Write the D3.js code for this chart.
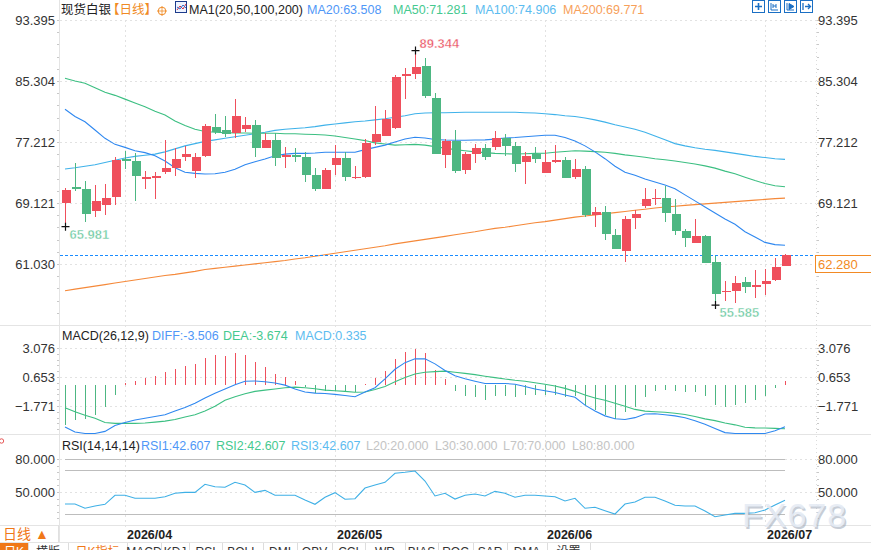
<!DOCTYPE html>
<html>
<head>
<meta charset="utf-8">
<script src="https://cdn.jsdelivr.net/npm/d3@7"></script>
<style>
  body { margin: 0; background: #fff; overflow: hidden; }
  svg { display: block; font-family: "Liberation Sans", Arial, "Noto Sans CJK SC", sans-serif; }
</style>
</head>
<body>
<div id="chart"></div>
<script>
// daily candles, spot silver
const open  = [69.16,71.20,70.98,68.10,68.85,69.96,74.95,74.69,72.34,72.57,73.27,73.80,75.26,73.41,75.40,79.20,78.80,78.37,78.97,79.47,
               76.46,77.48,75.26,75.44,75.22,72.83,71.02,74.20,75.09,72.48,72.61,77.21,78.00,79.03,86.00,86.27,87.33,83.09,75.53,77.34,
               73.54,75.66,76.37,76.59,77.70,76.68,74.60,75.58,73.14,74.69,74.82,72.61,73.63,67.53,67.97,64.87,62.79,67.17,68.72,69.65,
               69.78,67.66,65.41,63.77,64.74,61.25,57.32,57.49,58.68,58.03,58.37,58.90,60.80];
const high  = [71.15,74.38,72.04,71.51,71.64,75.18,76.02,75.71,73.36,73.23,77.48,76.37,76.68,75.75,79.60,80.93,80.66,82.92,80.57,80.13,
               78.37,78.37,76.50,76.37,75.93,73.72,73.72,76.81,75.85,74.03,77.65,81.99,81.46,86.10,87.07,89.344,88.40,83.75,77.56,78.80,
               75.93,76.95,76.95,78.67,78.27,77.25,75.85,76.50,76.15,76.81,75.26,74.95,74.03,68.55,68.72,65.63,67.40,68.19,71.07,70.93,
               71.37,69.65,65.71,67.00,64.87,62.13,58.77,59.48,59.34,60.23,60.32,61.86,62.35];
const low   = [65.981,70.75,66.64,67.30,67.53,68.85,73.63,69.42,71.02,69.69,73.00,72.74,74.73,72.47,75.22,78.23,77.92,77.70,78.58,75.26,
               76.46,74.07,73.80,74.60,71.95,70.75,71.02,72.83,72.08,72.26,72.44,76.81,78.00,78.93,82.92,85.57,83.09,75.66,73.80,73.06,
               72.97,74.38,74.82,76.15,75.35,73.27,71.64,74.46,73.14,74.38,72.48,72.30,67.22,65.98,64.21,63.02,61.34,65.67,68.50,68.81,
               66.64,64.87,63.24,63.77,61.21,55.585,56.16,55.80,57.22,56.47,56.92,58.81,60.80];
const close = [70.84,71.00,67.70,69.38,69.82,74.82,74.75,72.74,72.61,72.70,73.80,74.95,75.62,75.22,79.33,78.58,78.23,80.66,79.47,76.46,
               77.48,75.13,75.49,75.26,72.87,71.02,73.50,75.09,72.52,72.61,77.12,78.27,80.22,85.87,86.23,87.20,83.35,75.66,77.34,73.41,
               75.62,76.42,75.26,77.70,76.72,74.33,75.35,74.99,74.56,74.82,72.48,73.59,67.53,67.97,65.01,63.02,67.04,67.66,69.65,69.82,
               67.75,65.45,64.52,64.74,61.21,57.09,57.49,58.47,58.03,58.24,58.77,60.67,62.28];

const ma20  = [81.55,80.60,79.90,78.80,77.70,76.90,76.50,76.05,75.80,75.40,74.70,73.80,73.20,73.05,72.97,73.00,73.20,73.60,74.20,74.60,
               74.95,75.40,75.60,75.70,75.70,75.75,75.85,75.85,75.85,75.85,76.20,76.50,76.80,77.20,77.60,77.85,77.75,77.55,77.48,77.45,
               77.45,77.48,77.50,77.60,77.75,77.80,77.90,78.00,78.10,78.10,77.80,77.35,76.70,75.90,75.00,74.00,73.20,72.80,72.30,71.90,
               71.50,71.00,70.20,69.40,68.60,67.80,67.00,66.30,65.30,64.60,63.90,63.60,63.508];
const ma50  = [85.66,85.30,85.00,84.40,83.80,83.40,82.90,82.40,81.90,81.30,80.80,80.00,79.40,78.90,78.60,78.50,78.45,78.40,78.40,78.38,
               78.37,78.37,78.30,78.30,78.25,78.20,78.15,78.00,77.80,77.60,77.40,77.10,76.95,76.80,76.85,76.90,76.80,76.60,76.40,76.20,
               76.05,75.90,75.80,75.70,75.65,75.62,75.65,75.70,75.72,75.85,75.95,76.05,76.00,75.93,75.85,75.70,75.50,75.35,75.20,75.00,
               74.85,74.70,74.50,74.30,74.05,73.75,73.35,73.00,72.55,72.10,71.70,71.40,71.281];
const ma100 = [73.63,73.80,74.00,74.20,74.50,74.80,75.10,75.30,75.45,75.60,75.90,76.30,76.70,77.00,77.30,77.50,77.70,77.90,78.10,78.30,
               78.50,78.75,78.90,79.00,79.10,79.25,79.45,79.60,79.75,79.90,80.00,80.15,80.30,80.50,80.70,80.95,81.05,81.10,81.10,81.12,
               81.15,81.15,81.15,81.15,81.15,81.15,81.10,81.05,80.95,80.85,80.70,80.60,80.40,80.15,79.85,79.50,79.20,78.90,78.50,78.00,
               77.50,77.00,76.70,76.45,76.25,76.10,75.90,75.70,75.50,75.30,75.15,75.00,74.906];
const ma200 = [57.49,57.70,57.90,58.10,58.30,58.50,58.70,58.90,59.10,59.30,59.50,59.65,59.85,60.05,60.30,60.45,60.60,60.75,60.90,61.05,
               61.20,61.35,61.50,61.70,61.85,62.05,62.25,62.45,62.65,62.85,63.05,63.25,63.45,63.70,63.90,64.10,64.30,64.50,64.70,64.90,
               65.10,65.30,65.55,65.75,65.90,66.10,66.30,66.50,66.65,66.85,67.05,67.25,67.40,67.55,67.70,67.85,68.00,68.15,68.30,68.45,
               68.60,68.70,68.80,68.90,69.00,69.10,69.20,69.30,69.40,69.50,69.60,69.70,69.771];

const diff  = [-3.54,-3.95,-4.07,-4.07,-3.90,-3.40,-3.15,-2.95,-2.80,-2.65,-2.50,-2.20,-1.90,-1.55,-1.10,-0.70,-0.35,0.00,0.30,0.32,
               0.25,0.15,-0.03,-0.35,-0.60,-0.70,-0.73,-0.80,-0.90,-1.00,-0.60,-0.25,0.50,1.30,1.85,2.17,2.17,1.75,1.20,0.75,
               0.50,0.30,0.11,0.11,0.11,0.05,-0.15,-0.35,-0.50,-0.65,-0.85,-1.05,-1.70,-2.20,-2.60,-2.84,-2.90,-2.75,-2.45,-2.42,
               -2.50,-2.60,-2.75,-3.00,-3.30,-3.65,-4.00,-4.07,-4.07,-4.07,-4.07,-3.85,-3.506];
const dea   = [-1.92,-2.25,-2.55,-2.80,-3.15,-3.23,-3.23,-3.23,-3.20,-3.12,-3.04,-2.90,-2.70,-2.50,-2.20,-1.80,-1.30,-1.00,-0.75,-0.55,
               -0.45,-0.35,-0.25,-0.20,-0.25,-0.33,-0.45,-0.50,-0.55,-0.62,-0.60,-0.40,-0.15,0.25,0.60,0.90,1.05,1.10,1.14,1.05,
               0.95,0.85,0.72,0.60,0.48,0.38,0.30,0.17,0.05,-0.10,-0.30,-0.55,-0.85,-1.10,-1.30,-1.55,-1.80,-2.06,-2.20,-2.25,
               -2.30,-2.38,-2.48,-2.65,-2.85,-3.00,-3.20,-3.35,-3.55,-3.60,-3.62,-3.65,-3.674];
const macdHist = [-3.40,-2.98,-2.87,-2.50,-1.90,-0.84,0.14,0.33,0.58,0.75,1.06,1.34,1.59,1.70,2.28,2.45,2.37,2.62,2.45,1.90,
               1.50,0.94,0.61,0.33,-0.22,-0.70,-0.56,-0.50,-0.56,-0.64,0.05,0.56,1.17,2.17,2.76,3.00,2.67,1.25,0.50,-0.56,
               -0.98,-1.03,-1.25,-0.92,-0.92,-1.03,-0.84,-0.84,-0.84,-0.84,-1.03,-0.92,-1.67,-2.15,-2.50,-2.84,-2.31,-1.86,-1.03,-0.56,
               -0.42,-0.56,-0.64,-0.64,-0.92,-1.67,-1.90,-1.67,-1.53,-1.31,-0.92,-0.28,0.335];

const rsi   = [39.1,39.1,35.2,37.3,38.8,47.0,47.0,44.3,44.3,44.3,45.7,48.8,49.7,49.7,57.0,54.8,54.3,58.8,56.4,49.7,
               51.5,47.0,47.0,47.0,42.7,38.8,45.2,49.4,43.4,43.9,53.6,56.4,58.8,67.0,67.9,69.1,60.0,46.4,48.8,43.6,
               47.0,48.2,46.4,50.6,48.8,45.2,47.0,47.0,46.4,45.7,41.8,44.3,35.2,36.1,33.0,30.0,39.1,40.9,45.2,45.2,
               41.8,37.9,37.3,37.3,32.7,27.5,29.1,30.6,30.6,31.2,33.6,38.2,42.607];

const priceTicks = [93.395, 85.304, 77.212, 69.121, 61.030];
const macdTicks  = [3.076, 0.653, -1.771];
const rsiTicks   = [80, 50];
const rsiLevels  = [80, 70, 30];
const monthIdx    = [6, 27, 48, 70];
const monthLabels = ["2026/04", "2026/05", "2026/06", "2026/07"];
const tabLabels  = ["日K", "横版", "日K指标", "MACD", "KDJ", "RSI", "BOLL", "DMI", "OBV", "CCI", "WR", "BIAS", "ROC", "SAR", "DMA", "设置"];

const W = 871, H = 550;
const RED = "#ef4f5c", GREEN = "#4db782";
const C20 = "#2f88f0", C50 = "#3cbf82", C100 = "#3fb2ea", C200 = "#f5893a";
const n = close.length;

const svg = d3.select("#chart").append("svg")
    .attr("width", W)
    .attr("height", H);

const x = d3.scaleBand().domain(d3.range(n)).range([60, 60 + n * 10]);
const xc = i => x(i) + x.bandwidth() / 2;

const yMain = d3.scaleLinear().domain([52.939, 93.395]).range([325, 20]);
const yMacd = d3.scaleLinear().domain([-4.2, 3.076]).range([435, 348]);
const yRsi  = d3.scaleLinear().domain([20, 98]).range([525, 439.2]);

// frame lines
const frame = svg.append("g").attr("stroke", "#e4e4e4").attr("shape-rendering", "crispEdges");
[325.5, 434.5, 525.5, 542.5].forEach(y => frame.append("line").attr("x1", 0).attr("x2", W).attr("y1", y).attr("y2", y));
frame.append("line").attr("x1", 59.5).attr("x2", 59.5).attr("y1", 0).attr("y2", 542);
frame.append("line").attr("x1", 816.5).attr("x2", 816.5).attr("y1", 20).attr("y2", 525)
    .attr("stroke", "#dcdcdc").attr("stroke-dasharray", "1,3");

// grid
const grid = svg.append("g").attr("stroke", "#e2e2e2").attr("stroke-dasharray", "2,3").attr("shape-rendering", "crispEdges");
priceTicks.forEach(v => grid.append("line").attr("x1", 60).attr("x2", 816).attr("y1", Math.round(yMain(v)) + 0.5).attr("y2", Math.round(yMain(v)) + 0.5));
macdTicks.forEach(v => grid.append("line").attr("x1", 60).attr("x2", 816).attr("y1", Math.round(yMacd(v)) + 0.5).attr("y2", Math.round(yMacd(v)) + 0.5));
rsiTicks.forEach(v => grid.append("line").attr("x1", 60).attr("x2", 816).attr("y1", Math.round(yRsi(v)) + 0.5).attr("y2", Math.round(yRsi(v)) + 0.5));
monthIdx.forEach(i => grid.append("line").attr("x1", xc(i) + 0.5).attr("x2", xc(i) + 0.5).attr("y1", 20).attr("y2", 530));

// minor ticks on both axes
function minorTicks(scale, ticks, lo, hi) {
    const step = (ticks[0] - ticks[1]) / 5;
    const g = svg.append("g").attr("stroke", "#c8c8c8").attr("shape-rendering", "crispEdges");
    for (let v = ticks[0]; v > lo; v -= step) {
        const y = Math.round(scale(v)) + 0.5;
        if (y > hi) break;
        g.append("line").attr("x1", 57).attr("x2", 59).attr("y1", y).attr("y2", y);
        g.append("line").attr("x1", 817).attr("x2", 819).attr("y1", y).attr("y2", y);
    }
}
minorTicks(yMain, priceTicks, 52.939, 324);
minorTicks(yMacd, macdTicks, -4.2, 433);
minorTicks(yRsi, [80, 50], 20, 524);

// axes labels
function axisPair(scale, ticks, fmt) {
    svg.append("g").attr("transform", "translate(57,0)")
        .call(d3.axisLeft(scale).tickValues(ticks).tickSize(0).tickPadding(2).tickFormat(fmt))
        .attr("font-family", null).attr("font-size", 13)
        .call(g => g.select(".domain").remove())
        .selectAll("text").attr("fill", "#333");
    svg.append("g").attr("transform", "translate(816,0)")
        .call(d3.axisRight(scale).tickValues(ticks).tickSize(0).tickPadding(2).tickFormat(fmt))
        .attr("font-family", null).attr("font-size", 13)
        .call(g => g.select(".domain").remove())
        .selectAll("text").attr("fill", "#333");
}
axisPair(yMain, priceTicks, d3.format(".3f"));
axisPair(yMacd, macdTicks, d3.format(".3f"));
axisPair(yRsi, rsiTicks, d3.format(".3f"));

// moving averages
const line = scale => d3.line().x((d, i) => xc(i)).y(d => scale(d));
[[ma200, C200], [ma100, C100], [ma50, C50], [ma20, C20]].forEach(([arr, col]) => {
    svg.append("path").datum(arr)
        .attr("d", line(yMain))
        .attr("fill", "none")
        .attr("stroke", col)
        .attr("stroke-width", 1.1);
});

// last price line (under the candles)
const last = close[n - 1], ly = Math.round(yMain(last)) + 0.5;
svg.append("line").attr("x1", 60).attr("x2", 816).attr("y1", ly).attr("y2", ly)
    .attr("stroke", "#1a8cff").attr("stroke-width", 1.2).attr("stroke-dasharray", "3,2");

// candles
const cg = svg.append("g").attr("shape-rendering", "crispEdges");
cg.selectAll("line.wick")
    .data(d3.range(n))
    .enter()
    .append("line")
    .attr("class", "wick")
    .attr("x1", i => xc(i) + 0.5)
    .attr("x2", i => xc(i) + 0.5)
    .attr("y1", i => yMain(high[i]))
    .attr("y2", i => yMain(low[i]))
    .attr("stroke", i => close[i] >= open[i] ? RED : GREEN);
cg.selectAll("rect.body")
    .data(d3.range(n))
    .enter()
    .append("rect")
    .attr("class", "body")
    .attr("x", i => xc(i) - 3.5)
    .attr("width", 9)
    .attr("y", i => yMain(Math.max(open[i], close[i])))
    .attr("height", i => Math.max(1.5, Math.abs(yMain(open[i]) - yMain(close[i]))))
    .attr("fill", i => close[i] >= open[i] ? RED : GREEN);

// extreme markers
function extreme(i, v, isHigh) {
    const px = xc(i) + 0.5, py = yMain(v);
    const g = svg.append("g");
    g.append("path").attr("d", `M${px - 4},${py}H${px + 4}M${px},${py - 4}V${py + 4}`)
        .attr("stroke", "#111").attr("stroke-width", 1.2);
    g.append("text")
        .attr("x", px + 4)
        .attr("y", isHigh ? py - 3 : py + 12)
        .attr("font-size", 13)
        .attr("font-weight", "bold")
        .attr("fill", isHigh ? "#ea5565" : "#6cc9a0")
        .attr("stroke", "#fff").attr("stroke-width", 0.4)
        .text(v.toFixed(3));
}
const hiIdx = d3.maxIndex(high), loIdx = d3.minIndex(low);
extreme(hiIdx, high[hiIdx], true);
extreme(0, low[0], false);
extreme(loIdx, low[loIdx], false);

// last price tag
svg.append("rect").attr("x", 815.5).attr("y", ly).attr("width", 56).attr("height", 17)
    .attr("fill", "#fff").attr("stroke", "#f28a24");
svg.append("text").attr("x", 818).attr("y", ly + 13.5).attr("font-size", 13).attr("fill", "#f28a24").text(last.toFixed(3));

// MACD
const mg = svg.append("g").attr("shape-rendering", "crispEdges");
mg.selectAll("line")
    .data(d3.range(n))
    .enter()
    .append("line")
    .attr("x1", i => xc(i) + 0.5)
    .attr("x2", i => xc(i) + 0.5)
    .attr("y1", yMacd(0))
    .attr("y2", i => yMacd(macdHist[i]))
    .attr("stroke", i => macdHist[i] >= 0 ? RED : GREEN);
svg.append("path").datum(dea).attr("d", line(yMacd)).attr("fill", "none").attr("stroke", C50).attr("stroke-width", 1.1);
svg.append("path").datum(diff).attr("d", line(yMacd)).attr("fill", "none").attr("stroke", C20).attr("stroke-width", 1.1);

// RSI
const rg = svg.append("g").attr("stroke", "#bdbdbd").attr("shape-rendering", "crispEdges");
rsiLevels.forEach(v => rg.append("line").attr("x1", xc(0)).attr("x2", xc(n - 1)).attr("y1", Math.round(yRsi(v)) + 0.5).attr("y2", Math.round(yRsi(v)) + 0.5));
svg.append("path").datum(rsi).attr("d", line(yRsi)).attr("fill", "none").attr("stroke", "#3fb0e6").attr("stroke-width", 1.1);

// legends
function legend(y, items) {
    const g = svg.append("g").attr("font-size", 12.5);
    items.forEach(([tx, tt, col]) => g.append("text").attr("x", tx).attr("y", y).attr("fill", col).text(tt));
}
legend(13.5, [
    [61, "现货白银", "#222"], [107, "【日线】", "#f08a24"], [189, "MA1(20,50,100,200)", "#222"],
    [307, "MA20:" + ma20[n - 1].toFixed(3), "#4f97f7"], [393, "MA50:" + ma50[n - 1].toFixed(3), "#45c98f"],
    [475, "MA100:" + ma100[n - 1].toFixed(3), "#5cbcf0"], [563, "MA200:" + ma200[n - 1].toFixed(3), "#f7a05a"]
]);
legend(339.5, [
    [62, "MACD(26,12,9)", "#222"], [152, "DIFF:" + diff[n - 1].toFixed(3), "#4f97f7"],
    [223, "DEA:" + dea[n - 1].toFixed(3), "#45c98f"], [295, "MACD:" + macdHist[n - 1].toFixed(3), "#5cbcf0"]
]);
legend(450, [
    [62, "RSI(14,14,14)", "#222"], [141, "RSI1:" + rsi[n - 1].toFixed(3), "#4f97f7"],
    [216, "RSI2:" + rsi[n - 1].toFixed(3), "#45c98f"], [291, "RSI3:" + rsi[n - 1].toFixed(3), "#5cbcf0"],
    [366, "L20:20.000", "#c4c4c4"], [435, "L30:30.000", "#c4c4c4"], [503, "L70:70.000", "#c4c4c4"], [572, "L80:80.000", "#c4c4c4"]
]);

// small icons in the title row
svg.append("circle").attr("cx", 162).attr("cy", 11).attr("r", 3.8).attr("fill", "none").attr("stroke", "#f08a24");
svg.append("path").attr("d", "M157,11H167M162,6V16").attr("stroke", "#f08a24").attr("stroke-width", 0.8);
svg.append("rect").attr("x", 175.5).attr("y", 1.5).attr("width", 11).attr("height", 11).attr("fill", "#eef3ff").attr("stroke", "#1d3c8c");
svg.append("path").attr("d", "M177,10L180,6L183,9L186,4").attr("fill", "none").attr("stroke", "#d9303f");
svg.append("path").attr("d", "M177,7L180,9L183,5L186,8").attr("fill", "none").attr("stroke", "#2f6fd0");
const icons = svg.append("g").attr("stroke", "#1a6fc4").attr("fill", "none");
[752.5, 768.5, 784.5, 800.5].forEach(ix => icons.append("rect").attr("x", ix).attr("y", 0.5).attr("width", 12).attr("height", 12).attr("fill", "#fff"));
icons.append("path").attr("d", "M755,6.5H762M758.5,3V10").attr("stroke-width", 1.6);
icons.append("path").attr("d", "M771,3V10H778M773,4V8M776,4V8M773,6H776");
icons.append("path").attr("d", "M787,3V10H794").attr("stroke-width", 1);
icons.append("path").attr("d", "M789,3.5L794,6.5L789,9.5Z").attr("fill", "#1a6fc4");
icons.append("path").attr("d", "M803,3V10M805,6.5H810M808,4L810.5,6.5L808,9").attr("stroke-width", 1.3);

// red settings mark at left of RSI panel
svg.append("circle").attr("cx", 1.5).attr("cy", 441).attr("r", 2.2).attr("fill", "none").attr("stroke", "#e03030").attr("stroke-width", 0.8);

// date labels
svg.append("g").selectAll("text")
    .data(monthIdx)
    .enter()
    .append("text")
    .attr("x", i => xc(i) + 2)
    .attr("y", 538.5)
    .attr("font-size", 12.5)
    .attr("font-weight", "bold")
    .attr("fill", "#222")
    .text((d, k) => monthLabels[k]);

svg.append("line").attr("x1", 58.5).attr("x2", 58.5).attr("y1", 525).attr("y2", 542).attr("stroke", "#e0e0e0");
svg.append("text").attr("x", 3).attr("y", 539).attr("font-size", 14).attr("fill", "#f07818").text("日线 ▲");

// bottom tab row, cut by the window as in the source screenshot
const tabEdges = [0, 28, 68, 127, 161, 189, 222, 263, 297, 332, 365, 405, 438, 473, 507, 547, 590];
svg.append("rect").attr("x", 0).attr("y", 543).attr("width", 28).attr("height", 8).attr("fill", "#f07818");
const tg = svg.append("g").attr("font-size", 12);
tabLabels.forEach((t, k) => {
    const cx = (tabEdges[k] + tabEdges[k + 1]) / 2;
    tg.append("text").attr("x", cx).attr("y", 556).attr("text-anchor", "middle")
        .attr("fill", k === 0 ? "#fff" : (k === 2 ? "#f07818" : "#333")).text(t);
    tg.append("line").attr("x1", tabEdges[k + 1] + 0.5).attr("x2", tabEdges[k + 1] + 0.5).attr("y1", 543).attr("y2", 550).attr("stroke", "#ddd");
});

// watermark
svg.append("text").attr("x", 743.5).attr("y", 528.5).attr("font-size", 34).attr("letter-spacing", 1)
    .attr("fill", "#9aa6b6").attr("opacity", 0.55).text("FX678");
svg.append("text").attr("x", 742).attr("y", 527).attr("font-size", 34).attr("letter-spacing", 1)
    .attr("fill", "#e6ecf5").attr("opacity", 0.9).text("FX678");
</script>
</body>
</html>
